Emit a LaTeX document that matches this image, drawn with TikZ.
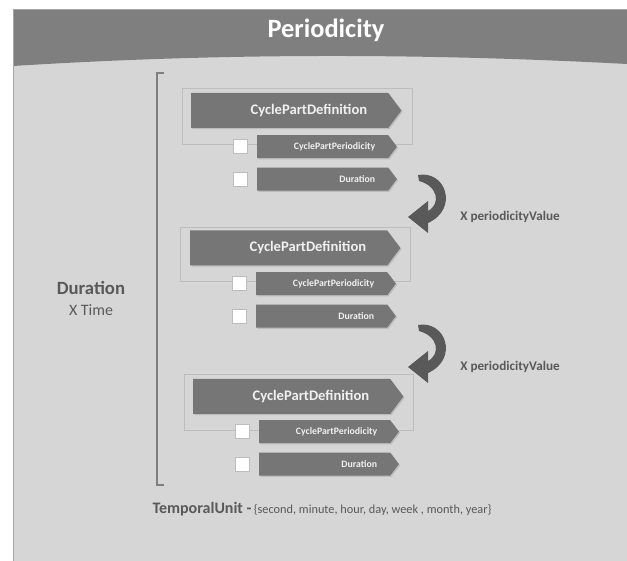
\documentclass[tikz,border=0pt]{standalone}
\usepackage{fontspec}
\setmainfont{Carlito}
\usepackage{xcolor}
\usepackage{tikz}
\usetikzlibrary{shapes.symbols}
\usetikzlibrary{positioning}
\usetikzlibrary{shadows}
\definecolor{hdrgrey}{HTML}{7F7F7F}
\definecolor{bggrey}{HTML}{D6D6D6}
\definecolor{sigfill}{HTML}{767676}
\definecolor{txtgrey}{HTML}{595959}
\definecolor{framegrey}{HTML}{BDBDBD}
\definecolor{edgeblue}{HTML}{8EAACC}
\tikzstyle{part} = [shape=signal, signal to=east, signal pointer angle=106,
    fill=sigfill, draw=none, text=white!94!black, align=right,
    drop shadow={shadow xshift=1.2pt, shadow yshift=-1.2pt, opacity=0.3}]
\tikzstyle{bigpart} = [part, text width=155pt, inner xsep=21pt,
    minimum height=35pt, font=\bfseries\fontsize{14.6}{17}\selectfont]
\tikzstyle{smallpart} = [part, text width=105pt, inner xsep=13pt,
    minimum height=23pt, font=\bfseries\fontsize{9.8}{11}\selectfont]
\tikzstyle{check} = [draw=framegrey, fill=white, minimum size=14pt, inner sep=0pt]
\tikzstyle{group} = [draw=framegrey, line width=0.6pt]
\tikzstyle{loop} = [fill=txtgrey]
\tikzstyle{note} = [text=txtgrey, font=\bfseries\fontsize{13.2}{15}\selectfont]

\begin{document}
\begin{tikzpicture}[x=1pt, y=-1pt]
  \useasboundingbox (0,0) rectangle (627,561);
  % Panel and header
  \fill[bggrey] (13,9.5) rectangle (627,561);
  \fill[hdrgrey] (13,9.5) -- (627,9.5) -- (627,64)
    .. controls (420,53) and (220,53) .. (13,66) -- cycle;
  \draw[edgeblue, line width=0.8pt] (13,561) -- (13,9.5) -- (627,9.5);
  \node[text=white, font=\bfseries\fontsize{26.4}{30}\selectfont] (title) at (326,30) {Periodicity};

  % Bracket for the whole duration
  \draw[hdrgrey, line width=2pt] (164,73) -- (157,73) -- (157,485) -- (164,485);
  \node[text=txtgrey, font=\bfseries\fontsize{18.7}{22}\selectfont] (dur) at (91,288) {Duration};
  \node[text=txtgrey, font=\fontsize{15.9}{18}\selectfont, below=3pt of dur] (times) {X Time};

  % Frames
  \draw[group] (182,88) rectangle (412,144);
  \draw[group] (180,227) rectangle (410,281);
  \draw[group] (184,374) rectangle (413,430);

  % Place nodes
  \node[bigpart, anchor=west] (def1) at (191,110.5) {CyclePartDefinition};
  \node[smallpart, anchor=north west] (per1) at (257,135) {CyclePartPeriodicity};
  \node[smallpart, below=9pt of per1] (dur1) {Duration};
  \node[check, left=10pt of per1] (cp1) {};
  \node[check, left=10pt of dur1] (cd1) {};

  \node[bigpart, anchor=west] (def2) at (190,248) {CyclePartDefinition};
  \node[smallpart, anchor=north west] (per2) at (256,272) {CyclePartPeriodicity};
  \node[smallpart, below=9pt of per2] (dur2) {Duration};
  \node[check, left=10pt of per2] (cp2) {};
  \node[check, left=10pt of dur2] (cd2) {};

  \node[bigpart, anchor=west] (def3) at (193,396.5) {CyclePartDefinition};
  \node[smallpart, anchor=north west] (per3) at (259,420) {CyclePartPeriodicity};
  \node[smallpart, below=9pt of per3] (dur3) {Duration};
  \node[check, left=10pt of per3] (cp3) {};
  \node[check, left=10pt of dur3] (cd3) {};

  % Repeat arrows
  \foreach \dy/\n in {0/1, 150/2} {
    \fill[loop, shift={(0,\dy)}] (418,175) .. controls (446,170) and (459,209) .. (428,223)
      -- (428,233) -- (408,217) -- (428,201) -- (428,211)
      .. controls (441,204) and (438,186) .. (419,181) -- cycle;
    \node[note] (rep\n) at (510,217+\dy) {X periodicityValue};
  }

  % Temporal unit
  \node[text=txtgrey] (unit) at (322,509)
    {{\bfseries\fontsize{16}{19}\selectfont TemporalUnit -} {\fontsize{12.3}{14}\selectfont\{second, minute, hour, day, week , month, year\}}};
\end{tikzpicture}
\end{document}
